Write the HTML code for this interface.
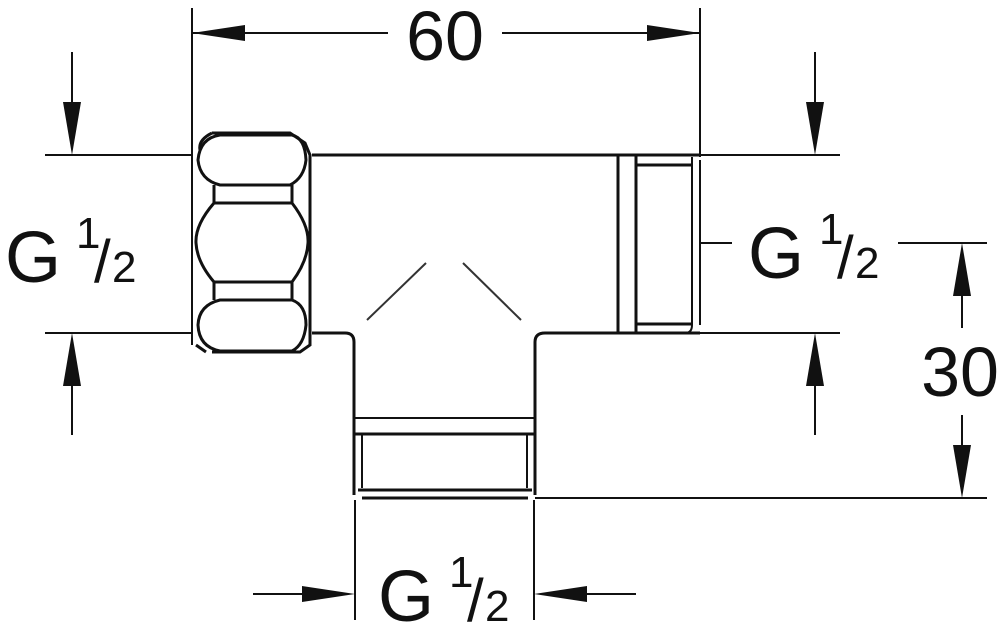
<!DOCTYPE html>
<html><head><meta charset="utf-8"><style>html,body{margin:0;padding:0;background:#fff}svg{display:block}</style></head>
<body>
<svg width="1000" height="635" viewBox="0 0 1000 635" xmlns="http://www.w3.org/2000/svg" font-family="Liberation Sans, sans-serif">
<g stroke="#111" fill="none" stroke-width="2">
<!-- top dim -->
<line x1="192" y1="8" x2="192" y2="345"/>
<line x1="700" y1="8" x2="700" y2="157"/>
<line x1="192" y1="33" x2="388" y2="33"/>
<line x1="502" y1="33" x2="700" y2="33"/>
<!-- left dim -->
<line x1="45" y1="155" x2="192" y2="155"/>
<line x1="45" y1="333" x2="192" y2="333"/>
<line x1="72" y1="52" x2="72" y2="120"/>
<line x1="72" y1="368" x2="72" y2="435"/>
<!-- right dim -->
<line x1="700" y1="155" x2="840" y2="155"/>
<line x1="700" y1="333" x2="840" y2="333"/>
<line x1="815" y1="52" x2="815" y2="120"/>
<line x1="815" y1="368" x2="815" y2="435"/>
<line x1="700" y1="243" x2="732" y2="243"/>
<line x1="898" y1="243" x2="987" y2="243"/>
<line x1="535" y1="498" x2="987" y2="498"/>
<line x1="962" y1="275" x2="962" y2="328"/>
<line x1="962" y1="415" x2="962" y2="465"/>
<!-- bottom dim -->
<line x1="355" y1="500" x2="355" y2="620"/>
<line x1="534" y1="500" x2="534" y2="620"/>
<line x1="253" y1="594" x2="320" y2="594"/>
<line x1="568" y1="594" x2="636" y2="594"/>
</g>
<g fill="#111">
<polygon points="192,33 245,25 245,41"/>
<polygon points="700,33 647,25 647,41"/>
<polygon points="72,155 63,102 81,102"/>
<polygon points="72,333 63,386 81,386"/>
<polygon points="815,155 806,102 824,102"/>
<polygon points="815,333 806,386 824,386"/>
<polygon points="962,243 953,296 971,296"/>
<polygon points="962,498 953,445 971,445"/>
<polygon points="355,594 302,586 302,602"/>
<polygon points="534,594 587,586 587,602"/>
</g>
<!-- body -->
<g stroke="#111" fill="none" stroke-width="3">
<line x1="312" y1="155" x2="700" y2="155"/>
<path d="M312,333 H345 Q354,333 354,342 V495"/>
<path d="M700,333 H545 Q535,333 535,342 V495"/>
<!-- right thread -->
<line x1="618" y1="155" x2="618" y2="333"/>
<line x1="636" y1="155" x2="636" y2="333"/>
<line x1="636" y1="165" x2="692" y2="165"/>
<line x1="636" y1="324" x2="692" y2="324"/>
<path d="M692,157 V325 Q692,333 685,333" stroke-width="2"/>
<line x1="700" y1="160" x2="700" y2="325" stroke-width="2"/>
<!-- bottom thread -->
<line x1="354" y1="418" x2="535" y2="418" stroke-width="2"/>
<line x1="354" y1="434" x2="535" y2="434"/>
<line x1="362" y1="434" x2="362" y2="488" stroke-width="2"/>
<line x1="527" y1="434" x2="527" y2="488" stroke-width="2"/>
<line x1="358" y1="490" x2="532" y2="490"/>
<line x1="362" y1="498" x2="528" y2="498"/>
<!-- nut -->
<path d="M212,133 H290 L305,143 L310,155 V345 L300,352 H212"/>
<path d="M200,150 Q198,140 212,133 M196,345 L206,352"/>
<path d="M220,135 H292 Q305,138 306,160 Q304,178 290,185 H220 Q200,180 198,160 Q200,138 220,135 Z"/>
<path d="M220,300 H292 Q306,305 306,325 Q304,345 292,351 H220 Q199,347 198,325 Q199,305 220,300 Z"/>
<line x1="214" y1="185" x2="214" y2="203"/>
<line x1="292" y1="185" x2="292" y2="203"/>
<line x1="214" y1="203" x2="292" y2="203"/>
<line x1="214" y1="282" x2="292" y2="282"/>
<line x1="214" y1="282" x2="214" y2="300"/>
<line x1="292" y1="282" x2="292" y2="300"/>
<path d="M214,203 Q195,225 196,243 Q197,262 214,282"/>
<path d="M292,203 Q309,225 308,243 Q307,262 292,282"/>
</g>
<g stroke="#333" stroke-width="2">
<line x1="367" y1="320" x2="426" y2="263"/>
<line x1="463" y1="263" x2="521" y2="320"/>
</g>
<g fill="#111">
<text x="445" y="60" font-size="70" text-anchor="middle">60</text>
<text x="960" y="396" font-size="70" text-anchor="middle">30</text>
<text x="5" y="282" font-size="72">G</text>
<text x="76" y="248" font-size="44">1</text>
<text x="94" y="282" font-size="60">/</text>
<text x="112" y="282" font-size="44">2</text>
<text x="748" y="278" font-size="72">G</text>
<text x="819" y="244" font-size="44">1</text>
<text x="837" y="278" font-size="60">/</text>
<text x="855" y="278" font-size="44">2</text>
<text x="378" y="621" font-size="72">G</text>
<text x="449" y="587" font-size="44">1</text>
<text x="467" y="621" font-size="60">/</text>
<text x="485" y="621" font-size="44">2</text>
</g>
</svg>
</body></html>
